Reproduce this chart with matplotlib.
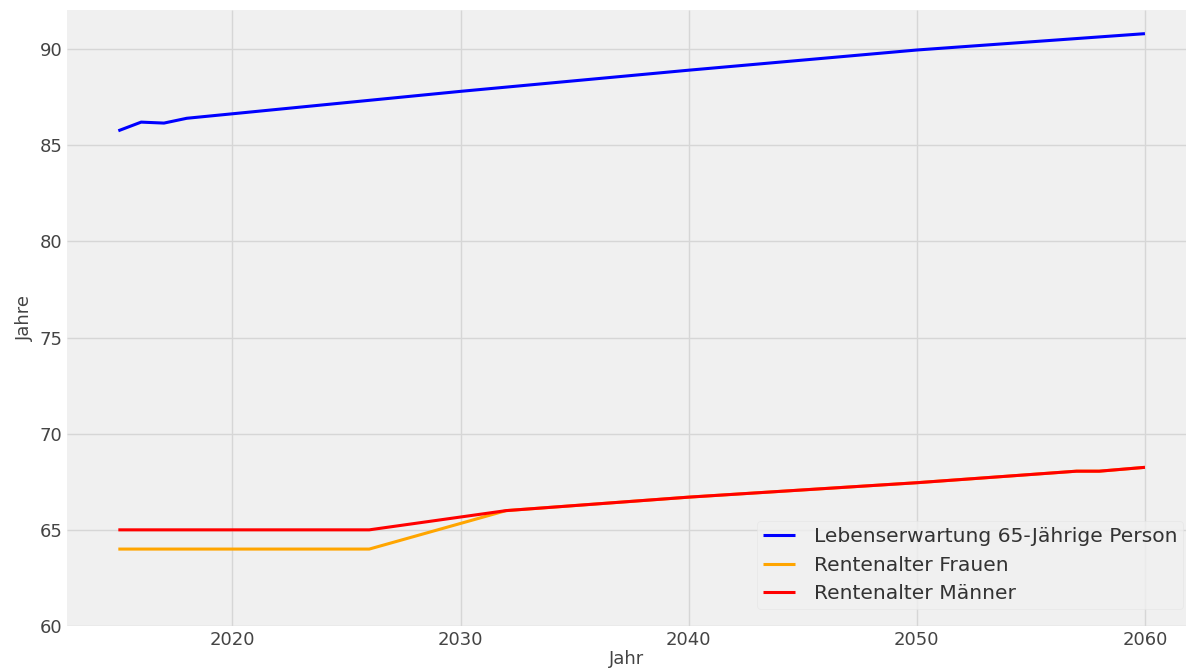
import matplotlib
matplotlib.use('Agg')
import matplotlib.pyplot as plt

# Lebenserwartung einer 65-jaehrigen Person (Jahre)
jahre_le = [2015, 2016, 2017, 2018, 2030, 2040, 2050, 2060]
lebenserwartung = [85.75, 86.2, 86.15, 86.4, 87.8, 88.9, 89.95, 90.8]

# Rentenalter
jahre_rente = [2015, 2026, 2032, 2040, 2050, 2057, 2058, 2060]
rente_frauen = [64.0, 64.0, 66.0, 66.7, 67.45, 68.05, 68.05, 68.25]
rente_maenner = [65.0, 65.0, 66.0, 66.7, 67.45, 68.05, 68.05, 68.25]

plt.style.use('fivethirtyeight')
plt.rcParams['font.family'] = ['DejaVu Sans']

fig = plt.figure(figsize=(11.86, 6.72), dpi=100, facecolor='white')
ax = fig.add_axes([67 / 1186, 46 / 672, 1 - 67 / 1186, 616 / 672])
ax.set_facecolor('#f0f0f0')

ax.plot(jahre_le, lebenserwartung, color='blue', lw=2.2, label='Lebenserwartung 65-Jährige Person')
ax.plot(jahre_rente, rente_frauen, color='orange', lw=2.2, label='Rentenalter Frauen')
ax.plot(jahre_rente, rente_maenner, color='red', lw=2.2, label='Rentenalter Männer')

ax.set_ylim(60, 92.03)
ax.set_xlim(2012.75, 2061.8)
ax.set_xticks([2020, 2030, 2040, 2050, 2060])
ax.set_yticks([60, 65, 70, 75, 80, 85, 90])
ax.tick_params(labelsize=13, colors='#444444')
ax.grid(color='#d6d6d6', lw=1)
for s in ax.spines.values():
    s.set_visible(False)

ax.set_xlabel('Jahr', fontsize=13, color='#444444', labelpad=1)
ax.set_ylabel('Jahre', fontsize=13, color='#444444', labelpad=4)

leg = ax.legend(loc='lower right', bbox_to_anchor=(1.003, 0.018), fontsize=14.6, frameon=True,
                borderaxespad=0.3, labelspacing=0.45, handlelength=1.6, handletextpad=0.9,
                borderpad=0.3)
leg.get_frame().set_facecolor('#f0f0f0')
leg.get_frame().set_edgecolor('#e4e4e4')
for t in leg.get_texts():
    t.set_color('#333333')

fig.savefig('out.png', dpi=100, facecolor='white')
